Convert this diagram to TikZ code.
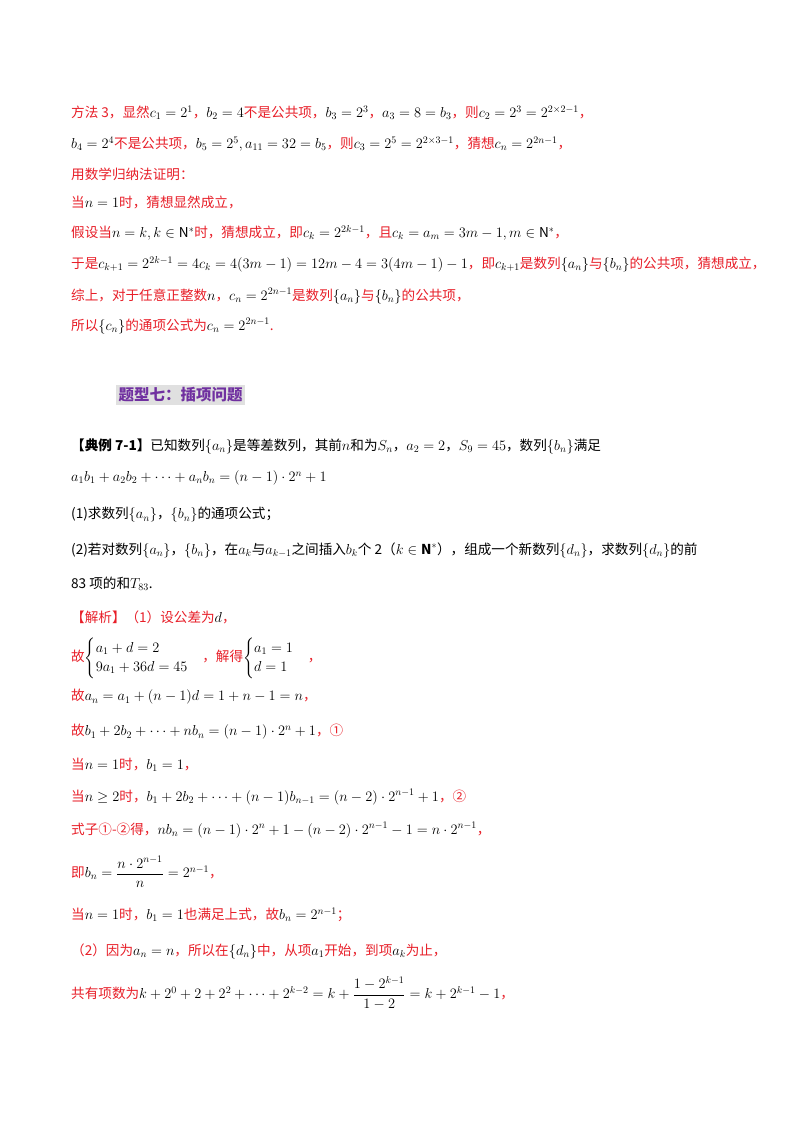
\documentclass[tikz,border=0pt]{standalone}
\usepackage{amsmath,amssymb}
\usepackage{fontspec}
\setmainfont{Noto Sans CJK SC}
\definecolor{rd}{RGB}{232,30,40}
\definecolor{pur}{RGB}{112,48,160}
\newcommand{\mb}[1]{{\color{black}$#1$}}
\begin{document}
\begin{tikzpicture}[x=1pt,y=1pt,
  ln/.style={anchor=west,inner sep=0pt,font=\fontsize{13.6}{16}\selectfont},
  rl/.style={ln,text=rd},bl/.style={ln,text=black}]
\useasboundingbox (0,0) rectangle (800,-1132);
\fill[white] (0,0) rectangle (800,-1132);
\node[rl] (l1) at (71,-113) {方法 3，显然\mb{c_1=2^1}，\mb{b_2=4}不是公共项，\mb{b_3=2^3}，\mb{a_3=8=b_3}，则\mb{c_2=2^3=2^{2\times2-1}}，};
\node[rl] (l2) at (71,-144) {\mb{b_4=2^4}不是公共项，\mb{b_5=2^5,a_{11}=32=b_5}，则\mb{c_3=2^5=2^{2\times3-1}}，猜想\mb{c_n=2^{2n-1}}，};
\node[rl] (l3) at (71,-174) {用数学归纳法证明：};
\node[rl] (l4) at (71,-202) {当\mb{n=1}时，猜想显然成立，};
\node[rl] (l5) at (71,-233) {假设当\mb{n=k,k\in\mathrm{N}^*}时，猜想成立，即\mb{c_k=2^{2k-1}}，且\mb{c_k=a_m=3m-1,m\in\mathrm{N}^*}，};
\node[rl] (l6) at (71,-264) {于是\mb{c_{k+1}=2^{2k-1}=4c_k=4(3m-1)=12m-4=3(4m-1)-1}，即\mb{c_{k+1}}是数列\mb{\{a_n\}}与\mb{\{b_n\}}的公共项，猜想成立，};
\node[rl] (l7) at (71,-296) {综上，对于任意正整数\mb{n}，\mb{c_n=2^{2n-1}}是数列\mb{\{a_n\}}与\mb{\{b_n\}}的公共项，};
\node[rl] (l8) at (71,-326) {所以\mb{\{c_n\}}的通项公式为\mb{c_n=2^{2n-1}}.};
\node[anchor=west,fill=black!12,text=pur,inner sep=2.5pt,font=\fontsize{15.5}{18}\selectfont\bfseries] (hd) at (116,-395) {题型七：插项问题};
\node[bl] (p1) at (71,-446) {\textbf{【典例 7-1】}已知数列\mb{\{a_n\}}是等差数列，其前\mb{n}和为\mb{S_n}，\mb{a_2=2}，\mb{S_9=45}，数列\mb{\{b_n\}}满足};
\node[bl] (p2) at (71,-478) {$a_1b_1+a_2b_2+\cdots+a_nb_n=(n-1)\cdot2^n+1$};
\node[bl] (p3) at (71,-515) {(1)求数列\mb{\{a_n\}}，\mb{\{b_n\}}的通项公式；};
\node[bl] (p4) at (71,-550) {(2)若对数列\mb{\{a_n\}}，\mb{\{b_n\}}，在\mb{a_k}与\mb{a_{k-1}}之间插入\mb{b_k}个 2（\mb{k\in\mathbf{N}^*}），组成一个新数列\mb{\{d_n\}}，求数列\mb{\{d_n\}}的前};
\node[bl] (p5) at (71,-584) {83 项的和\mb{T_{83}}.};
\node[rl] (s1) at (71,-617) {【解析】（1）设公差为\mb{d}，};
\node[rl] (s2) at (71,-658) {故\mb{\begin{cases}a_1+d=2\\9a_1+36d=45\end{cases}}，解得\mb{\begin{cases}a_1=1\\d=1\end{cases}}，};
\node[rl] (s3) at (71,-697) {故\mb{a_n=a_1+(n-1)d=1+n-1=n}，};
\node[rl] (s4) at (71,-732) {故\mb{b_1+2b_2+\cdots+nb_n=(n-1)\cdot2^n+1}，①};
\node[rl] (s5) at (71,-765) {当\mb{n=1}时，\mb{b_1=1}，};
\node[rl] (s6) at (71,-797) {当\mb{n\ge2}时，\mb{b_1+2b_2+\cdots+(n-1)b_{n-1}=(n-2)\cdot2^{n-1}+1}，②};
\node[rl] (s7) at (71,-830) {式子①-②得，\mb{nb_n=(n-1)\cdot2^n+1-(n-2)\cdot2^{n-1}-1=n\cdot2^{n-1}}，};
\node[rl] (s8) at (71,-872) {即\mb{b_n=\dfrac{n\cdot2^{n-1}}{n}=2^{n-1}}，};
\node[rl] (s9) at (71,-915) {当\mb{n=1}时，\mb{b_1=1}也满足上式，故\mb{b_n=2^{n-1}}；};
\node[rl] (s10) at (71,-951) {（2）因为\mb{a_n=n}，所以在\mb{\{d_n\}}中，从项\mb{a_1}开始，到项\mb{a_k}为止，};
\node[rl] (s11) at (71,-993) {共有项数为\mb{k+2^0+2+2^2+\cdots+2^{k-2}=k+\dfrac{1-2^{k-1}}{1-2}=k+2^{k-1}-1}，};
\end{tikzpicture}
\end{document}
